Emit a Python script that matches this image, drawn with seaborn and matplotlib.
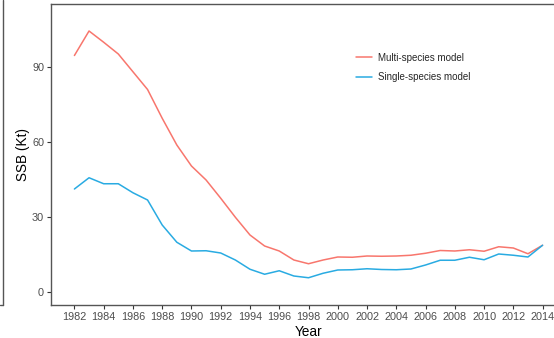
import numpy as np
import pandas as pd
import matplotlib
matplotlib.use("Agg")
import matplotlib.pyplot as plt
from matplotlib.lines import Line2D
import seaborn as sns

years = list(range(1982, 2015))
multi_species = [94.6, 104.4, 99.9, 95.2, 88.1, 81.0, 69.5, 58.8, 50.4, 44.8,
                 37.5, 29.9, 22.8, 18.4, 16.4, 12.8, 11.3, 12.8, 14.0, 13.9,
                 14.4, 14.3, 14.4, 14.7, 15.5, 16.6, 16.4, 16.9, 16.3, 18.1,
                 17.6, 15.3, 18.7]
single_species = [41.2, 45.7, 43.3, 43.3, 39.7, 36.8, 26.8, 19.9, 16.4, 16.5,
                  15.6, 12.8, 9.1, 7.1, 8.5, 6.4, 5.7, 7.5, 8.8, 8.9,
                  9.3, 9.0, 8.9, 9.2, 10.8, 12.7, 12.7, 13.9, 12.9, 15.2,
                  14.7, 14.0, 18.7]
series_names = ["Multi-species model", "Single-species model"]
series_colors = ["#F8766D", "#29ABE2"]
y_ticks = [0, 30, 60, 90]
x_ticks = list(range(1982, 2015, 2))

df = pd.DataFrame({
    "Year": years * 2,
    "SSB": multi_species + single_species,
    "Model": [series_names[0]] * len(years) + [series_names[1]] * len(years),
})

sns.set_theme(style="white")
plt.rcParams["font.family"] = ["Liberation Sans", "DejaVu Sans"]

W, H = 554, 338
fig = plt.figure(figsize=(W / 100, H / 100), dpi=100)
ax = fig.add_axes([51 / W, (H - 305) / H, (566 - 51) / W, (305 - 4) / H])

sns.lineplot(data=df, x="Year", y="SSB", hue="Model", hue_order=series_names,
             palette=series_colors, linewidth=1.1, ax=ax)

ax.set_xlim(1980.4, 2015.6)
ax.set_ylim(-5.2, 115.2)
ax.set_xticks(x_ticks)
ax.set_yticks(y_ticks)
ax.tick_params(axis="both", which="both", direction="out", length=3, width=0.8,
               color="#333333", labelsize=7.8, labelcolor="#4D4D4D", pad=2,
               bottom=True, left=True)
for side in ["left", "bottom", "top", "right"]:
    ax.spines[side].set_visible(True)
    ax.spines[side].set_color("#555555")
    ax.spines[side].set_linewidth(1.0)

ax.set_xlabel("Year", fontsize=9.8, color="black", labelpad=2)
ax.set_ylabel("SSB (Kt)", fontsize=9.8, color="black")
ax.yaxis.set_label_coords(-(51 - 30) / (566 - 51), 0.5)

leg = ax.legend(loc="upper left", bbox_to_anchor=((352 - 51) / (566 - 51), 1 - (49 - 4) / (305 - 4)),
                frameon=False, fontsize=7, handlelength=1.7, handletextpad=0.55,
                labelspacing=0.95, borderaxespad=0, title=None)

# edge of the neighbouring panel
fig.add_artist(Line2D([2.5 / W, 2.5 / W], [1, (H - 305) / H], transform=fig.transFigure,
                      color="#555555", linewidth=1.0))
fig.add_artist(Line2D([0, 2.5 / W], [(H - 305) / H, (H - 305) / H], transform=fig.transFigure,
                      color="#555555", linewidth=1.0))

fig.savefig("out.png", dpi=100)
